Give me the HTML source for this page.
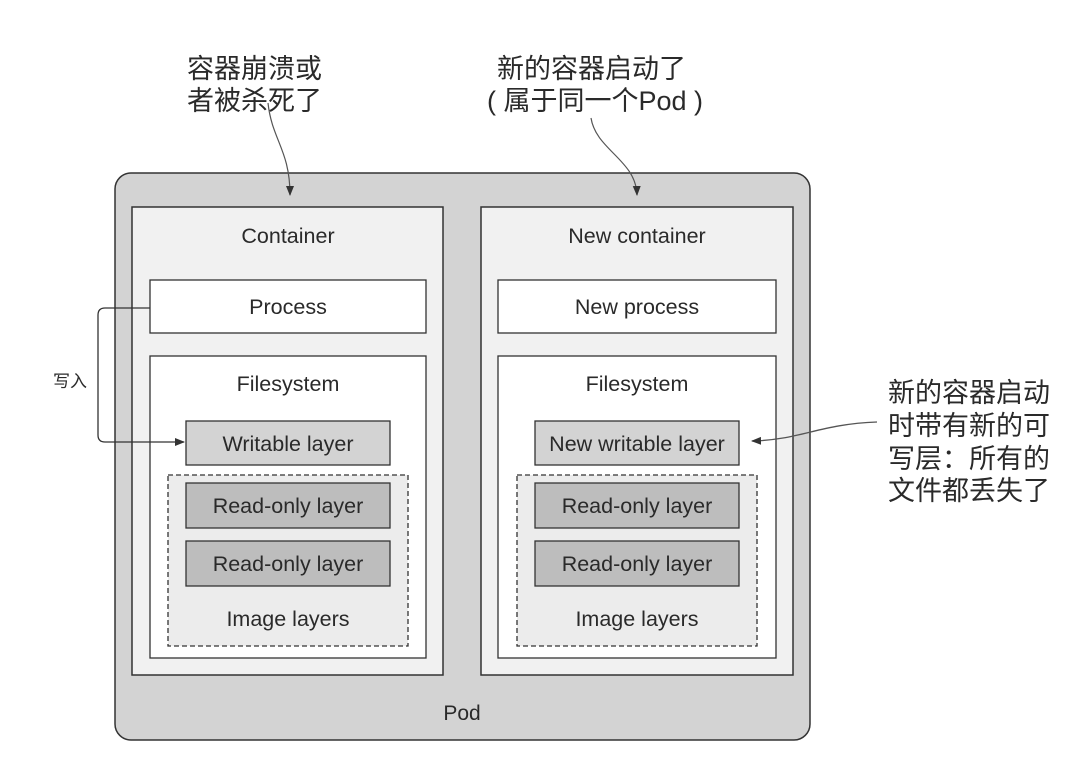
<!DOCTYPE html>
<html><head><meta charset="utf-8"><style>
html,body{margin:0;padding:0;background:#fff;}
svg{display:block;}
text{font-family:"Liberation Sans","Noto Sans CJK SC",sans-serif;fill:#2a2a2a;}
.b{font-size:21.5px;}
</style></head><body>
<svg width="1080" height="757" viewBox="0 0 1080 757" xmlns="http://www.w3.org/2000/svg">
<defs>
<marker id="ah" markerWidth="10" markerHeight="10" refX="9" refY="5" orient="auto" markerUnits="userSpaceOnUse">
<path d="M0,1 L10,5 L0,9 Z" fill="#333"/>
</marker>
</defs>
<!-- Pod -->
<rect x="115" y="173" width="695" height="567" rx="16" fill="#d3d3d3" stroke="#333" stroke-width="1.5"/>
<text x="462" y="720" font-size="21" text-anchor="middle">Pod</text>

<!-- Left container -->
<rect x="132" y="207" width="311" height="468" fill="#f1f1f1" stroke="#333" stroke-width="1.5"/>
<text x="288" y="243" class="b" text-anchor="middle">Container</text>
<rect x="150" y="280" width="276" height="53" fill="#fff" stroke="#333" stroke-width="1.3"/>
<text x="288" y="314" class="b" text-anchor="middle">Process</text>
<rect x="150" y="356" width="276" height="302" fill="#fff" stroke="#333" stroke-width="1.3"/>
<text x="288" y="391" class="b" text-anchor="middle">Filesystem</text>
<rect x="186" y="421" width="204" height="44" fill="#d3d3d3" stroke="#333" stroke-width="1.3"/>
<text x="288" y="451" class="b" text-anchor="middle">Writable layer</text>
<rect x="168" y="475" width="240" height="171" fill="#ececec" stroke="#333" stroke-width="1.3" stroke-dasharray="5,3"/>
<rect x="186" y="483" width="204" height="45" fill="#bdbdbd" stroke="#333" stroke-width="1.3"/>
<text x="288" y="513" class="b" text-anchor="middle">Read-only layer</text>
<rect x="186" y="541" width="204" height="45" fill="#bdbdbd" stroke="#333" stroke-width="1.3"/>
<text x="288" y="571" class="b" text-anchor="middle">Read-only layer</text>
<text x="288" y="626" class="b" text-anchor="middle">Image layers</text>

<!-- Right container -->
<rect x="481" y="207" width="312" height="468" fill="#f1f1f1" stroke="#333" stroke-width="1.5"/>
<text x="637" y="243" class="b" text-anchor="middle">New container</text>
<rect x="498" y="280" width="278" height="53" fill="#fff" stroke="#333" stroke-width="1.3"/>
<text x="637" y="314" class="b" text-anchor="middle">New process</text>
<rect x="498" y="356" width="278" height="302" fill="#fff" stroke="#333" stroke-width="1.3"/>
<text x="637" y="391" class="b" text-anchor="middle">Filesystem</text>
<rect x="535" y="421" width="204" height="44" fill="#d3d3d3" stroke="#333" stroke-width="1.3"/>
<text x="637" y="451" class="b" text-anchor="middle">New writable layer</text>
<rect x="517" y="475" width="240" height="171" fill="#ececec" stroke="#333" stroke-width="1.3" stroke-dasharray="5,3"/>
<rect x="535" y="483" width="204" height="45" fill="#bdbdbd" stroke="#333" stroke-width="1.3"/>
<text x="637" y="513" class="b" text-anchor="middle">Read-only layer</text>
<rect x="535" y="541" width="204" height="45" fill="#bdbdbd" stroke="#333" stroke-width="1.3"/>
<text x="637" y="571" class="b" text-anchor="middle">Read-only layer</text>
<text x="637" y="626" class="b" text-anchor="middle">Image layers</text>

<!-- Write connector -->
<path d="M150,308 L105,308 Q98,308 98,315 L98,435 Q98,442 105,442 L184,442" fill="none" stroke="#333" stroke-width="1.3" marker-end="url(#ah)"/>
<text x="53" y="387" font-size="17">写入</text>

<!-- Top annotations -->
<text x="187" y="78" font-size="27">容器崩溃或</text>
<text x="187" y="110" font-size="27">者被杀死了</text>
<path d="M268,103 C272,140 290,150 290,195" fill="none" stroke="#555" stroke-width="1.2" marker-end="url(#ah)"/>

<text x="497" y="78" font-size="27">新的容器启动了</text>
<text x="487" y="110" font-size="27">( 属于同一个Pod )</text>
<path d="M591,118 C596,150 636,160 637,195" fill="none" stroke="#555" stroke-width="1.2" marker-end="url(#ah)"/>

<!-- Right annotation -->
<text x="888" y="402" font-size="27">新的容器启动</text>
<text x="888" y="435" font-size="27">时带有新的可</text>
<text x="888" y="468" font-size="27">写层：所有的</text>
<text x="888" y="500" font-size="27">文件都丢失了</text>
<path d="M877,422 C820,424 800,440 752,441" fill="none" stroke="#555" stroke-width="1.3" marker-end="url(#ah)"/>
</svg>
</body></html>
